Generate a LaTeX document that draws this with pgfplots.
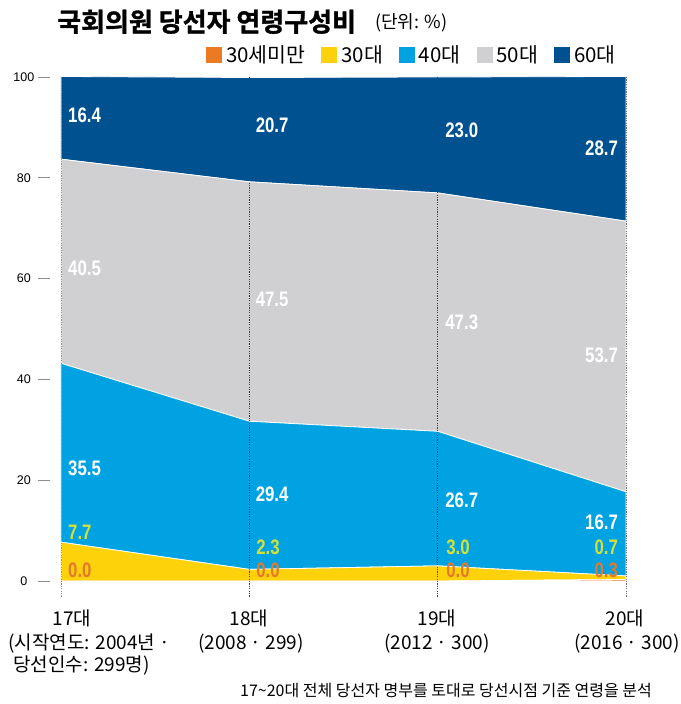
\documentclass[border=0pt]{standalone}
\usepackage{graphicx}
\usepackage{pgfplots}
\usepackage{pgfplotstable}
\pgfplotsset{compat=1.18}
\usepackage{fontspec}
\setmainfont{Noto Sans CJK KR}[BoldFont={Noto Sans CJK KR Bold}]
\newfontfamily\titlefont{Noto Sans CJK KR Bold}[FakeBold=1.2]
\newfontfamily\lblfont{Liberation Sans}
\newfontfamily\tickfont{Liberation Sans}
\definecolor{cU30}{HTML}{EC7A23}
\definecolor{c30}{HTML}{FDD20A}
\definecolor{c40}{HTML}{00A2E1}
\definecolor{c50}{HTML}{D0D0D2}
\definecolor{c60}{HTML}{00518F}
\definecolor{lab30}{HTML}{D4E03A}
\definecolor{labU30}{HTML}{E5782A}
\pgfplotstableread{
x u30 a30 a40 a50 a60
0 0.0 7.7 35.5 40.5 16.4
1 0.0 2.3 29.4 47.5 20.7
2 0.0 3.0 26.7 47.3 23.0
3 0.3 0.7 16.7 53.7 28.7
}\datatable
\newcommand\lb[1]{\scalebox{0.8}[1]{\lblfont\bfseries\fontsize{21}{22}\selectfont #1}}
\tikzset{lbl/.style={inner sep=0pt}}
\begin{document}
\begin{tikzpicture}
\path[use as bounding box] (0pt,0pt) rectangle (680pt,704pt);
\begin{axis}[
  at={(61pt,123pt)}, anchor=south west,
  scale only axis, width=565pt, height=504pt,
  xmin=0, xmax=3, ymin=0, ymax=100,
  stack plots=y, area style,
  axis line style={draw=none},
  xtick=\empty, ytick={0,20,...,100},
  major tick length=0pt,
  /pgf/number format/assume math mode=true,
  yticklabel style={anchor=east, inner sep=0pt, xshift=-11pt, font=\tickfont\fontsize{12.5}{13}\selectfont},
  yticklabel={\makebox[22pt][c]{\pgfmathprintnumber{\tick}}\hspace{3pt}\textcolor{black!45}{\rule[3.8pt]{12pt}{0.8pt}}},
  clip mode=individual,
  legend columns=5,
  legend image code/.code={\fill[#1,draw=none] (0pt,-8pt) rectangle (16pt,8pt);},
  legend style={at={(axis description cs:1,1)}, anchor=east, xshift=-8pt, yshift=22pt,
    draw=none, fill=none, inner sep=0pt,
    font=\fontsize{20.5}{21}\selectfont,
    nodes={inner sep=2pt},
    /tikz/every odd column/.append style={column sep=2pt},
    /tikz/every even column/.append style={column sep=14pt}},
]
\addplot[fill=cU30, draw=white, line width=0.8pt] table[x=x,y=u30]{\datatable} \closedcycle;
\addlegendentry{30세미만}
\addplot[fill=c30, draw=white, line width=0.8pt] table[x=x,y=a30]{\datatable} \closedcycle;
\addlegendentry{30대}
\addplot[fill=c40, draw=white, line width=0.8pt] table[x=x,y=a40]{\datatable} \closedcycle;
\addlegendentry{40대}
\addplot[fill=c50, draw=white, line width=0.8pt] table[x=x,y=a50]{\datatable} \closedcycle;
\addlegendentry{50대}
\addplot[fill=c60, draw=white, line width=0.8pt] table[x=x,y=a60]{\datatable} \closedcycle;
\addlegendentry{60대}
\coordinate (v0t) at (axis cs:0,100); \coordinate (v0b) at (axis cs:0,-3.2);
\coordinate (v1t) at (axis cs:1,100); \coordinate (v1b) at (axis cs:1,-3.2);
\coordinate (v2t) at (axis cs:2,100); \coordinate (v2b) at (axis cs:2,-3.2);
\coordinate (v3t) at (axis cs:3,100); \coordinate (v3b) at (axis cs:3,-3.2);
% label positions
\coordinate (a1) at (axis cs:0.037,92.4); \coordinate (a2) at (axis cs:0.037,62.1);
\coordinate (a3) at (axis cs:0.037,22.4); \coordinate (a4) at (axis cs:0.037,9.7);
\coordinate (a5) at (axis cs:0.037,2.2);
\coordinate (b1) at (axis cs:1.033,90.4); \coordinate (b2) at (axis cs:1.033,55.8);
\coordinate (b3) at (axis cs:1.033,17.3); \coordinate (b4) at (axis cs:1.036,6.7);
\coordinate (b5) at (axis cs:1.036,2.2);
\coordinate (c1) at (axis cs:2.040,89.5); \coordinate (c2) at (axis cs:2.040,51.4);
\coordinate (c3) at (axis cs:2.040,16.1); \coordinate (c4) at (axis cs:2.045,6.7);
\coordinate (c5) at (axis cs:2.045,2.2);
\coordinate (d1) at (axis cs:2.958,85.9); \coordinate (d2) at (axis cs:2.958,44.8);
\coordinate (d3) at (axis cs:2.958,11.7); \coordinate (d4) at (axis cs:2.958,6.7);
\coordinate (d5) at (axis cs:2.958,2.2);
\end{axis}
% dotted verticals
\draw[black!40, line width=0.7pt, dash pattern=on 1.2pt off 1.2pt] (v0t) -- (v0b);
\draw[black!75, line width=0.7pt, dash pattern=on 1.2pt off 1.2pt] (v1t) -- (v1b);
\draw[black!75, line width=0.7pt, dash pattern=on 1.2pt off 1.2pt] (v2t) -- (v2b);
\draw[black!55, line width=0.7pt, dash pattern=on 1.2pt off 1.2pt] (v3t) -- (v3b);
% value labels
\node[lbl, white, anchor=west] at (a1) {\lb{16.4}};
\node[lbl, white, anchor=west] at (a2) {\lb{40.5}};
\node[lbl, white, anchor=west] at (a3) {\lb{35.5}};
\node[lbl, lab30, anchor=west] at (a4) {\lb{7.7}};
\node[lbl, labU30, anchor=west] at (a5) {\lb{0.0}};
\node[lbl, white, anchor=west] at (b1) {\lb{20.7}};
\node[lbl, white, anchor=west] at (b2) {\lb{47.5}};
\node[lbl, white, anchor=west] at (b3) {\lb{29.4}};
\node[lbl, lab30, anchor=west] at (b4) {\lb{2.3}};
\node[lbl, labU30, anchor=west] at (b5) {\lb{0.0}};
\node[lbl, white, anchor=west] at (c1) {\lb{23.0}};
\node[lbl, white, anchor=west] at (c2) {\lb{47.3}};
\node[lbl, white, anchor=west] at (c3) {\lb{26.7}};
\node[lbl, lab30, anchor=west] at (c4) {\lb{3.0}};
\node[lbl, labU30, anchor=west] at (c5) {\lb{0.0}};
\node[lbl, white, anchor=east] at (d1) {\lb{28.7}};
\node[lbl, white, anchor=east] at (d2) {\lb{53.7}};
\node[lbl, white, anchor=east] at (d3) {\lb{16.7}};
\node[lbl, lab30, anchor=east] at (d4) {\lb{0.7}};
\node[lbl, labU30, anchor=east] at (d5) {\lb{0.3}};
% title
\node[anchor=base west, inner sep=0pt, font=\titlefont\fontsize{26}{28}\selectfont] at (57pt,672.5pt) {국회의원 당선자 연령구성비};
\node[anchor=base west, inner sep=0pt, font=\fontsize{18}{20}\selectfont] at (375pt,675pt) {(단위: \%)};
% x labels
\begin{scope}[every node/.style={inner sep=0pt, font=\fontsize{19}{20}\selectfont}]
\node[anchor=base] at (72pt,78pt) {17대};
\node[anchor=base] at (249pt,78pt) {18대};
\node[anchor=base] at (437pt,78pt) {19대};
\node[anchor=base] at (625pt,78pt) {20대};
\node[anchor=base west] at (8pt,54pt) {(시작연도: 2004년 ·};
\node[anchor=base west] at (13pt,32pt) {당선인수: 299명)};
\node[anchor=base] at (251pt,54pt) {(2008 · 299)};
\node[anchor=base] at (437pt,54pt) {(2012 · 300)};
\node[anchor=base] at (627pt,54pt) {(2016 · 300)};
\end{scope}
\node[anchor=base east, inner sep=0pt, font=\fontsize{16}{17}\selectfont] at (652pt,8pt) {17\char`\~20대 전체 당선자 명부를 토대로 당선시점 기준 연령을 분석};
\end{tikzpicture}
\end{document}
